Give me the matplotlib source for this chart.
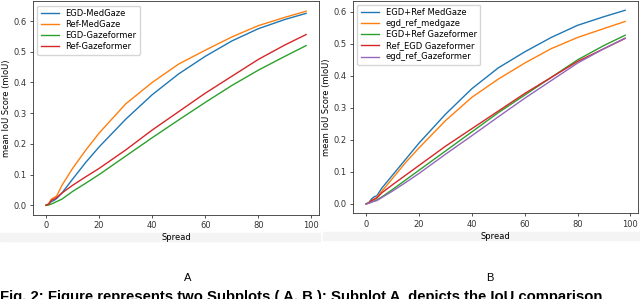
import matplotlib
matplotlib.use("Agg")
import matplotlib.pyplot as plt
from matplotlib.patches import Rectangle

# spread values shared by all curves
spread = [0, 1, 2, 3, 4, 6, 10, 15, 20, 30, 40, 50, 60, 70, 80, 90, 98]

# subplot A
labels_a = ["EGD-MedGaze", "Ref-MedGaze", "EGD-Gazeformer", "Ref-Gazeformer"]
egd_medgaze = [0, 0.003, 0.012, 0.016, 0.022, 0.04, 0.085, 0.14, 0.19, 0.28,
               0.36, 0.428, 0.485, 0.535, 0.575, 0.605, 0.625]
ref_medgaze = [0, 0.005, 0.02, 0.025, 0.03, 0.065, 0.12, 0.18, 0.235, 0.33,
               0.40, 0.46, 0.505, 0.548, 0.585, 0.612, 0.632]
egd_gazeformer = [0, 0.001, 0.004, 0.008, 0.012, 0.02, 0.045, 0.072, 0.10, 0.16,
                  0.22, 0.278, 0.335, 0.39, 0.44, 0.485, 0.52]
ref_gazeformer = [0, 0.004, 0.016, 0.02, 0.025, 0.04, 0.065, 0.093, 0.12, 0.18,
                  0.245, 0.305, 0.365, 0.42, 0.475, 0.522, 0.556]

# subplot B
labels_b = ["EGD+Ref MedGaze", "egd_ref_medgaze", "EGD+Ref Gazeformer",
            "Ref_EGD Gazeformer", "egd_ref_Gazeformer"]
egdref_medgaze = [0, 0.004, 0.015, 0.022, 0.025, 0.05, 0.09, 0.14, 0.19, 0.28,
                  0.36, 0.425, 0.475, 0.52, 0.558, 0.585, 0.605]
egd_ref_medgaze = [0, 0.003, 0.01, 0.015, 0.02, 0.04, 0.08, 0.13, 0.175, 0.26,
                   0.333, 0.39, 0.44, 0.485, 0.52, 0.548, 0.57]
egdref_gazeformer = [0, 0.002, 0.006, 0.009, 0.012, 0.022, 0.045, 0.075, 0.105, 0.165,
                     0.225, 0.285, 0.34, 0.395, 0.45, 0.495, 0.527]
ref_egd_gazeformer = [0, 0.003, 0.01, 0.014, 0.018, 0.035, 0.06, 0.09, 0.12, 0.18,
                      0.235, 0.29, 0.345, 0.395, 0.445, 0.485, 0.517]
egd_ref_gazeformer = [0, 0.002, 0.005, 0.008, 0.01, 0.02, 0.04, 0.067, 0.095, 0.155,
                      0.213, 0.272, 0.33, 0.385, 0.44, 0.485, 0.518]

caption = "Fig. 2: Figure represents two Subplots ( A, B ): Subplot A  depicts the IoU comparison"

plt.rcParams["font.size"] = 6

fig = plt.figure(figsize=(6.4, 2.99), dpi=100)

# faint strips left by the pasted subplot images
fig.patches.append(Rectangle((0, 1 - 241 / 299), 320 / 640, 8 / 299,
                             transform=fig.transFigure, color="#f4f4f4", zorder=-1))
fig.patches.append(Rectangle((323 / 640, 1 - 240 / 299), 317 / 640, 8 / 299,
                             transform=fig.transFigure, color="#f4f4f4", zorder=-1))

ax1 = fig.add_axes([0.0516, 0.281, 0.447, 0.714])
ax2 = fig.add_axes([0.552, 0.286, 0.445, 0.712])

for ys, lab in zip([egd_medgaze, ref_medgaze, egd_gazeformer, ref_gazeformer], labels_a):
    ax1.plot(spread, ys, lw=1.0, label=lab)

for ys, lab in zip([egdref_medgaze, egd_ref_medgaze, egdref_gazeformer,
                    ref_egd_gazeformer, egd_ref_gazeformer], labels_b):
    ax2.plot(spread, ys, lw=1.0, label=lab)

for ax in (ax1, ax2):
    ax.set_xlabel("Spread", labelpad=2)
    ax.set_ylabel("mean IoU Score (mIoU)", labelpad=2)
    ax.tick_params(length=2.5, width=0.6, pad=2, colors="#333333")
    ax.set_xticks([0, 20, 40, 60, 80, 100])
    for s in ax.spines.values():
        s.set_linewidth(0.6)
        s.set_color("#333333")
    ax.legend(loc="upper left", fontsize=6, handlelength=2.2, borderpad=0.4,
              labelspacing=0.25, framealpha=0.8)

fig.text(188 / 640, 1 - 278 / 299, "A", ha="center", va="center",
         fontsize=8, family="Liberation Sans")
fig.text(490 / 640, 1 - 278 / 299, "B", ha="center", va="center",
         fontsize=8, family="Liberation Sans")
fig.text(0.0, 1 - 300.5 / 299, caption, ha="left", va="baseline",
         fontsize=10.7, family="Liberation Sans", fontweight="bold")

fig.savefig("out.png", dpi=100)
